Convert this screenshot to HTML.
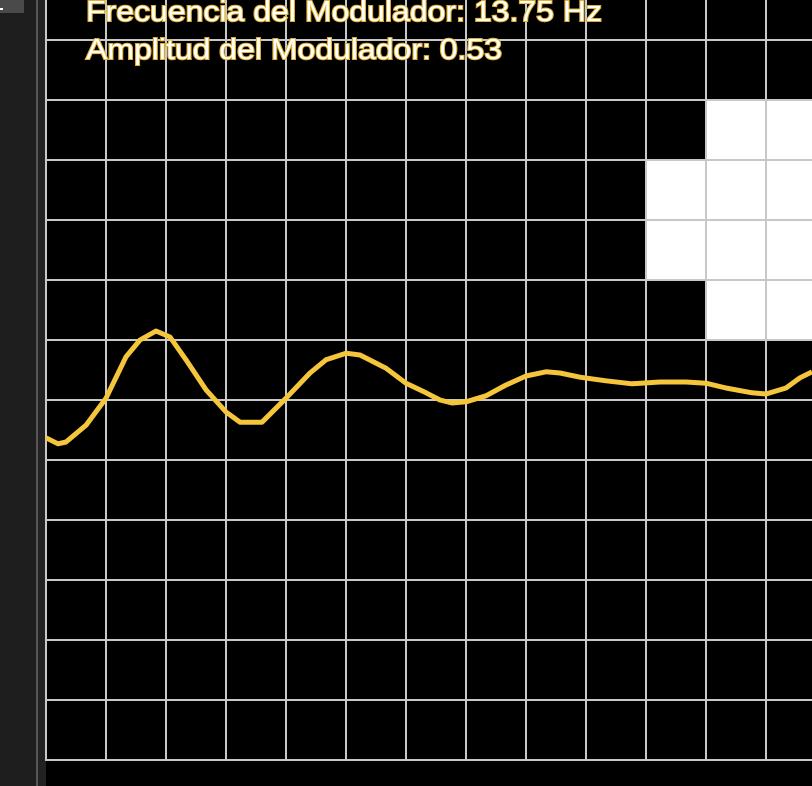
<!DOCTYPE html>
<html><head><meta charset="utf-8"><style>
html,body{margin:0;padding:0;width:812px;height:786px;overflow:hidden;background:#000}
#side{position:absolute;left:0;top:0;width:36px;height:786px;background:#1e1e1e}
#sep{position:absolute;left:36px;top:0;width:2px;height:786px;background:#555}
#side2{position:absolute;left:38px;top:0;width:8px;height:786px;background:#222}
#tab{position:absolute;left:0;top:0;width:24px;height:13px;background:#4a4a4a}
#tabm{position:absolute;left:0;top:8px;width:3px;height:2px;background:#fff}
svg{position:absolute;left:0;top:0}
</style></head><body>
<div id="side"></div>
<div id="sep"></div>
<div id="side2"></div>
<div id="tab"><div id="tabm"></div></div>
<svg id="chart" width="812" height="786">
<rect x="46" y="0" width="766" height="786" fill="#000"></rect>
<g id="cells"></g><g id="grid"></g><g id="wave"></g>
<text x="86" y="21" font-family="Liberation Sans, sans-serif" font-size="28.5" fill="#fff" stroke="#e0b030" stroke-width="2" paint-order="stroke" textLength="516" lengthAdjust="spacingAndGlyphs">Frecuencia del Modulador: 13.75 Hz</text>
<text x="86" y="59" font-family="Liberation Sans, sans-serif" font-size="28.5" fill="#fff" stroke="#e0b030" stroke-width="2" paint-order="stroke" textLength="416" lengthAdjust="spacingAndGlyphs">Amplitud del Modulador: 0.53</text>
</svg>
<script>
// sample positions (time units, 0..766) and wave amplitude (grid units, + up)
const times = [0,12,20,40,60,80,94,110,124,140,160,180,194,216,240,264,280,300,314,340,360,380,394,406,420,440,460,480,500,514,534,560,586,614,640,660,680,706,720,740,754,766];
const amps = [-0.63,-0.73,-0.70,-0.42,0.03,0.72,1.0,1.15,1.05,0.67,0.17,-0.2,-0.37,-0.37,0.03,0.45,0.67,0.78,0.75,0.53,0.28,0.12,0.0,-0.05,-0.03,0.07,0.25,0.4,0.47,0.45,0.38,0.32,0.27,0.3,0.3,0.28,0.2,0.12,0.1,0.2,0.37,0.47];
// white cells: [column, row] in grid units
const cellCols = [11,12,10,11,12,10,11,12,11,12];
const cellRows = [1,1,2,2,2,3,3,3,4,4];
const NS='http://www.w3.org/2000/svg';
const X0=46, CELL=60, Y0=40, MID=400;
const xAt = t => X0 + t;
const yAt = a => MID - a*60;
const cells=document.getElementById('cells');
for(let i=0;i<cellCols.length;i++){
  const r=document.createElementNS(NS,'rect');
  r.setAttribute('x',X0+cellCols[i]*CELL);r.setAttribute('y',Y0+cellRows[i]*CELL);
  r.setAttribute('width',CELL);r.setAttribute('height',CELL);r.setAttribute('fill','#fff');
  
  
  cells.appendChild(r);
}
const grid=document.getElementById('grid');
for(let i=0;i<=13;i++){
  const l=document.createElementNS(NS,'line');const x=X0+i*CELL;
  l.setAttribute('x1',x);l.setAttribute('x2',x);l.setAttribute('y1',0);l.setAttribute('y2',761);
  l.setAttribute('stroke','#c8c8c8');l.setAttribute('stroke-width',2);
  
  
  grid.appendChild(l);
}
for(let j=0;j<=12;j++){
  const l=document.createElementNS(NS,'line');const y=Y0+j*CELL;
  l.setAttribute('x1',X0);l.setAttribute('x2',812);l.setAttribute('y1',y);l.setAttribute('y2',y);
  l.setAttribute('stroke','#c8c8c8');l.setAttribute('stroke-width',2);
  
  
  grid.appendChild(l);
}
const p=document.createElementNS(NS,'polyline');
p.setAttribute('points',times.map((t,i)=>xAt(t)+','+yAt(amps[i])).join(' '));
p.setAttribute('fill','none');p.setAttribute('stroke','#f5c53c');p.setAttribute('stroke-width',5);
p.setAttribute('stroke-linejoin','round');


document.getElementById('wave').appendChild(p);
</script>
</body></html>
